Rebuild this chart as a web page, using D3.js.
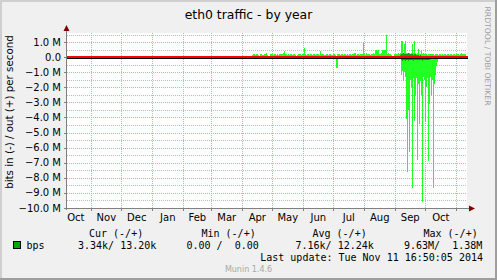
<!DOCTYPE html>
<html>
<head>
<meta charset="utf-8">
<script src="https://cdn.jsdelivr.net/npm/d3@7"></script>
<style>
  body { margin: 0; background: #fff; }
  svg text { font-family: "DejaVu Sans", sans-serif; }
  .mono { font-family: "DejaVu Sans Mono", monospace; font-size: 10px; white-space: pre; }
</style>
</head>
<body>
<svg width="497" height="280"></svg>
<script>
const svg = d3.select("svg");
const width = +svg.attr("width");
const height = +svg.attr("height");

// data: one value per day (M bits/s), starting at dataStart
const dataStart = "2014-04-11";
const outMax = [
  0.15,0.2,0.18,0.12,0.2,0.22,0.15,0.1,0.18,0.2,
  0.15,0.12,0.2,0.18,0.25,0.15,0.1,0.05,0.18,0.2,
  0.2,0.15,0.22,0.18,0.12,0.2,0.15,0.18,0.2,0.22,
  0.18,0.25,0.4,0.2,0.18,0.15,0.2,0.12,0.18,0.2,
  0.15,0.2,0.18,0.12,0.05,0.15,0.2,0.18,0.2,0.15,
  0.22,0.2,0.62,0.2,0.15,0.18,0.2,0.12,0.18,0.2,
  0.15,0.2,0.18,0.15,0.2,0.22,0.18,0.15,0.42,0.2,
  0.18,0.2,0.15,0.12,0.18,0.2,0.15,0.18,0.2,0.15,
  0.12,0.18,0.2,0.15,0.1,0.18,0.2,0.22,0.15,0.2,
  0.18,0.15,0.2,0.18,0.12,0.2,0.15,0.18,0.2,0.15,
  0.2,0.22,0.3,0.28,0.15,0.2,0.18,0.15,0.2,0.18,
  0.2,1.0,0.18,0.15,0.3,0.2,0.18,0.2,0.15,0.2,
  0.18,0.25,0.2,0.5,0.5,0.4,0.5,0.2,0.18,0.25,
  0.45,0.45,0.5,0.45,1.45,0.2,0.3,0.18,0.2,0.15,
  0.05,0.05,0.2,0.18,0.22,0.2,0.25,0.2,0.3,1.05,
  1.05,0.3,0.9,1.05,0.25,0.3,0.2,0.25,0.2,0.3,
  0.85,0.25,1.1,0.3,0.2,0.25,0.57,0.2,0.2,0.45,
  0.2,0.25,0.2,0.18,0.2,0.15,0.2,0.18,0.2,0.22,
  0.18,0.2,0.15,0.2,0.18,0.2,0.15,0.2,0.18,0.12,
  0.2,0.15,0.18,0.2,0.15,0.2,0.18,0.15,0.2,0.18,
  0.15,0.2,0.18,0.15,0.2,0.18,0.2,0.15,0.2,0.3,
  0.2,0.18,0.2,0.22
];
const inMax = [
  -0.05,-0.1,-0.05,-0.13,-0.05,-0.05,-0.08,-0.05,-0.05,-0.1,
  -0.05,-0.05,-0.08,-0.05,-0.05,-0.1,-0.05,-0.05,-0.05,-0.08,
  -0.13,-0.05,-0.05,-0.08,-0.05,-0.05,-0.1,-0.05,-0.05,-0.05,
  -0.08,-0.05,-0.15,-0.05,-0.05,-0.08,-0.05,-0.05,-0.1,-0.05,
  -0.05,-0.05,-0.08,-0.05,-0.05,-0.1,-0.05,-0.05,-0.05,-0.08,
  -0.05,-0.05,-0.13,-0.05,-0.05,-0.08,-0.05,-0.05,-0.05,-0.1,
  -0.05,-0.05,-0.08,-0.05,-0.05,-0.05,-0.1,-0.05,-0.12,-0.05,
  -0.05,-0.08,-0.05,-0.05,-0.05,-0.1,-0.05,-0.05,-0.08,-0.05,
  -0.05,-0.05,-0.1,-0.05,-0.75,-0.7,-0.05,-0.05,-0.08,-0.15,
  -0.05,-0.05,-0.08,-0.05,-0.05,-0.1,-0.05,-0.05,-0.05,-0.08,
  -0.05,-0.1,-0.05,-0.05,-0.08,-0.05,-0.05,-0.05,-0.1,-0.05,
  -0.08,-0.05,-0.05,-0.1,-0.05,-0.05,-0.05,-0.08,-0.05,-0.05,
  -0.1,-0.05,-0.05,-0.08,-0.05,-0.12,-0.05,-0.05,-0.08,-0.05,
  -0.05,-0.1,-0.05,-0.08,-0.05,-0.05,-0.1,-0.05,-0.05,-0.08,
  -0.05,-0.05,-0.1,-0.05,-0.08,-0.05,-0.05,-0.1,-0.15,-1.2,
  -0.9,-1.6,-0.97,-1.3,-4.1,-7.6,-3.5,-6.3,-1.5,-2.0,
  -8.7,-1.4,-4.2,-2.6,-1.4,-6.8,-1.8,-4.4,-1.6,-2.5,
  -9.6,-1.3,-1.5,-4.3,-2.0,-1.4,-6.9,-3.1,-1.3,-2.5,
  -1.5,-8.7,-1.8,-1.2,-0.6,-0.3,-0.1,-0.05,-0.08,-0.05,
  -0.05,-0.1,-0.05,-0.05,-0.08,-0.05,-0.05,-0.1,-0.05,-0.05,
  -0.08,-0.05,-0.05,-0.1,-0.05,-0.05,-0.08,-0.05,-0.05,-0.1,
  -0.05,-0.05,-0.08,-0.05
];

// averages, only visible around the september peak
const avgStart = "2014-09-03";
const avgOut = [0.05,0.08,0.1,0.15,0.2,0.22,0.25,0.2,0.18,0.2,0.22,0.25,0.2,0.18,0.22,0.2,0.15,0.18,0.2,0.15,
  0.12,0.15,0.1,0.12,0.1,0.08,0.1,0.08,0.05,0.08,0.05,0.05,0.06,0.05,0.04,0.05,0.04,0.05,0.04,0.04];
const avgIn = [-0.05,-0.08,-0.1,-0.15,-0.2,-0.25,-0.2,-0.22,-0.25,-0.2,-0.22,-0.25,-0.2,-0.18,-0.2,-0.22,-0.25,-0.2,-0.18,-0.2,
  -0.22,-0.2,-0.18,-0.2,-0.22,-0.25,-0.2,-0.18,-0.2,-0.22,-0.2,-0.18,-0.2,-0.15,-0.12,-0.1,-0.08,-0.05,-0.05,-0.04];

const yTicks = [1, 0, -1, -2, -3, -4, -5, -6, -7, -8, -9, -10];
const legendHeads = ["Cur (-/+)", "Min (-/+)", "Avg (-/+)", "Max (-/+)"];
const legendValues = ["3.34k/ 13.20k", "0.00 /  0.00", "7.16k/ 12.24k", "9.63M/  1.38M"];
const lastUpdate = "Last update: Tue Nov 11 16:50:05 2014";

const plotLeft = 67, plotRight = 467, plotTop = 33, plotBottom = 208;

// background + border shading
svg.append("rect").attr("width", width).attr("height", height).attr("fill", "#F0F0F0");
svg.append("path").attr("d", `M1 ${height} V1 H${width}`).attr("fill", "none")
  .attr("stroke", "#CFCFCF").attr("stroke-width", 2);
svg.append("path").attr("d", `M0 ${height - 1} H${width - 1} V0`).attr("fill", "none")
  .attr("stroke", "#9E9E9E").attr("stroke-width", 2);

svg.append("rect")
  .attr("x", plotLeft).attr("y", plotTop)
  .attr("width", plotRight - plotLeft).attr("height", plotBottom - plotTop)
  .attr("fill", "#fff");

const tEnd = new Date(2014, 10, 11, 16, 50, 5);
const tStart = d3.timeDay.offset(tEnd, -400);

const x = d3.scaleTime().domain([tStart, tEnd]).range([plotLeft, plotRight]);
const y = d3.scaleLinear().domain([-10, 1.6]).range([plotBottom, plotTop]);

const g = svg.append("g").attr("shape-rendering", "crispEdges");

// minor horizontal grid
g.selectAll(".ygrid-minor")
  .data(d3.range(-19, 4).map(d => d / 2).filter(d => d % 1 !== 0))
  .enter().append("line")
  .attr("x1", plotLeft).attr("x2", plotRight)
  .attr("y1", d => Math.round(y(d)) + 0.5).attr("y2", d => Math.round(y(d)) + 0.5)
  .attr("stroke", "#BBBBBB").attr("stroke-dasharray", "1,1");

// major grid
g.selectAll(".ygrid-major")
  .data(yTicks)
  .enter().append("line")
  .attr("x1", plotLeft).attr("x2", plotRight)
  .attr("y1", d => Math.round(y(d)) + 0.5).attr("y2", d => Math.round(y(d)) + 0.5)
  .attr("stroke", "#EFA0A0").attr("stroke-dasharray", "1,1");

const monthStarts = d3.timeMonth.range(d3.timeMonth.ceil(tStart), tEnd);
g.selectAll(".xgrid")
  .data(monthStarts)
  .enter().append("line")
  .attr("x1", d => Math.round(x(d)) + 0.5).attr("x2", d => Math.round(x(d)) + 0.5)
  .attr("y1", plotTop).attr("y2", plotBottom)
  .attr("stroke", "#EFA0A0").attr("stroke-dasharray", "1,1");

function bars(values, start, color) {
  const s = new Date(start + "T00:00:00");
  g.append("g").selectAll("rect")
    .data(values)
    .enter().append("rect")
    .attr("x", (d, i) => x(d3.timeDay.offset(s, i)))
    .attr("width", (d, i) => x(d3.timeDay.offset(s, i + 1)) - x(d3.timeDay.offset(s, i)))
    .attr("y", d => y(Math.max(0, d)))
    .attr("height", d => Math.abs(y(d) - y(0)))
    .attr("fill", color);
}

bars(outMax, dataStart, "#22FF22");
bars(inMax, dataStart, "#22FF22");
bars(avgOut, avgStart, "#00AA00");
bars(avgIn, avgStart, "#00AA00");

// zero line
g.append("line").attr("x1", plotLeft).attr("x2", plotRight + 1)
  .attr("y1", y(0) - 0.5).attr("y2", y(0) - 0.5)
  .attr("stroke", "#FF0000").attr("stroke-width", 2);
g.append("line").attr("x1", plotLeft).attr("x2", plotRight + 1)
  .attr("y1", Math.round(y(0)) + 1.5).attr("y2", Math.round(y(0)) + 1.5)
  .attr("stroke", "#000");

// axes
g.append("line").attr("x1", plotLeft - 0.5).attr("x2", plotLeft - 0.5)
  .attr("y1", plotBottom + 2).attr("y2", plotTop - 4).attr("stroke", "#808080");
g.append("line").attr("x1", plotLeft - 2).attr("x2", plotRight + 3)
  .attr("y1", plotBottom + 0.5).attr("y2", plotBottom + 0.5).attr("stroke", "#808080");

g.selectAll(".ytick")
  .data(yTicks)
  .enter().append("line")
  .attr("x1", plotLeft - 3).attr("x2", plotLeft)
  .attr("y1", d => Math.round(y(d)) + 0.5).attr("y2", d => Math.round(y(d)) + 0.5)
  .attr("stroke", "#808080");

g.selectAll(".xtick")
  .data(monthStarts)
  .enter().append("line")
  .attr("x1", d => Math.round(x(d)) + 0.5).attr("x2", d => Math.round(x(d)) + 0.5)
  .attr("y1", plotBottom).attr("y2", plotBottom + 3)
  .attr("stroke", "#808080");

// arrows
svg.append("path").attr("d", `M${plotLeft - 3.5} ${plotTop - 2} L${plotLeft - 0.5} ${plotTop - 8} L${plotLeft + 2.5} ${plotTop - 2} Z`)
  .attr("fill", "#7F0000");
svg.append("path").attr("d", `M${plotRight + 2} ${plotBottom - 2.5} L${plotRight + 8} ${plotBottom + 0.5} L${plotRight + 2} ${plotBottom + 3.5} Z`)
  .attr("fill", "#7F0000");

// y labels
svg.selectAll(".ylab")
  .data(yTicks)
  .enter().append("text")
  .attr("x", 61)
  .attr("y", d => y(d) + 3.5)
  .attr("text-anchor", "end")
  .attr("font-size", 10)
  .text(d => d === 0 ? "0.0" : d3.format(".1f")(d) + " M");

// month labels in the middle of each month
const months = d3.timeMonth.range(d3.timeMonth.floor(tStart), tEnd)
  .map(m => new Date((+m + +d3.timeMonth.offset(m, 1)) / 2))
  .filter(m => m > tStart && m < tEnd);
svg.selectAll(".xlab")
  .data(months)
  .enter().append("text")
  .attr("x", d => x(d))
  .attr("y", 221)
  .attr("text-anchor", "middle")
  .attr("font-size", 10)
  .text(d => d3.timeFormat("%b")(d));

// titles
svg.append("text").attr("x", 248.5).attr("y", 19)
  .attr("text-anchor", "middle").attr("font-size", 12.4)
  .text("eth0 traffic - by year");

svg.append("text")
  .attr("transform", "translate(13,112) rotate(-90)")
  .attr("text-anchor", "middle").attr("font-size", 10.3)
  .text("bits in (-) / out (+) per second");

svg.append("text")
  .attr("transform", "translate(484.5,6.5) rotate(90)")
  .attr("font-size", 7.7).attr("fill", "#A0A0A0")
  .text("RRDTOOL / TOBI OETIKER");

// legend
const headX = [89, 201.5, 312.5, 423.5];
const valX = [78, 186.5, 295.5, 404];
svg.selectAll(".lhead")
  .data(legendHeads)
  .enter().append("text")
  .attr("class", "mono")
  .attr("x", (d, i) => headX[i]).attr("y", 237)
  .text(d => d);

svg.append("rect").attr("x", 13.5).attr("y", 241.5).attr("width", 7).attr("height", 7)
  .attr("fill", "#00AA00").attr("stroke", "#000");
svg.append("text").attr("class", "mono").attr("x", 26.5).attr("y", 249).text("bps");

svg.selectAll(".lval")
  .data(legendValues)
  .enter().append("text")
  .attr("class", "mono")
  .attr("x", (d, i) => valX[i]).attr("y", 249)
  .text(d => d);

svg.append("text").attr("class", "mono")
  .attr("x", 483).attr("y", 261).attr("text-anchor", "end")
  .text(lastUpdate);

svg.append("text").attr("x", 248.5).attr("y", 271.5)
  .attr("text-anchor", "middle").attr("font-size", 8).attr("fill", "#A8A8A8")
  .text("Munin 1.4.6");
</script>
</body>
</html>
